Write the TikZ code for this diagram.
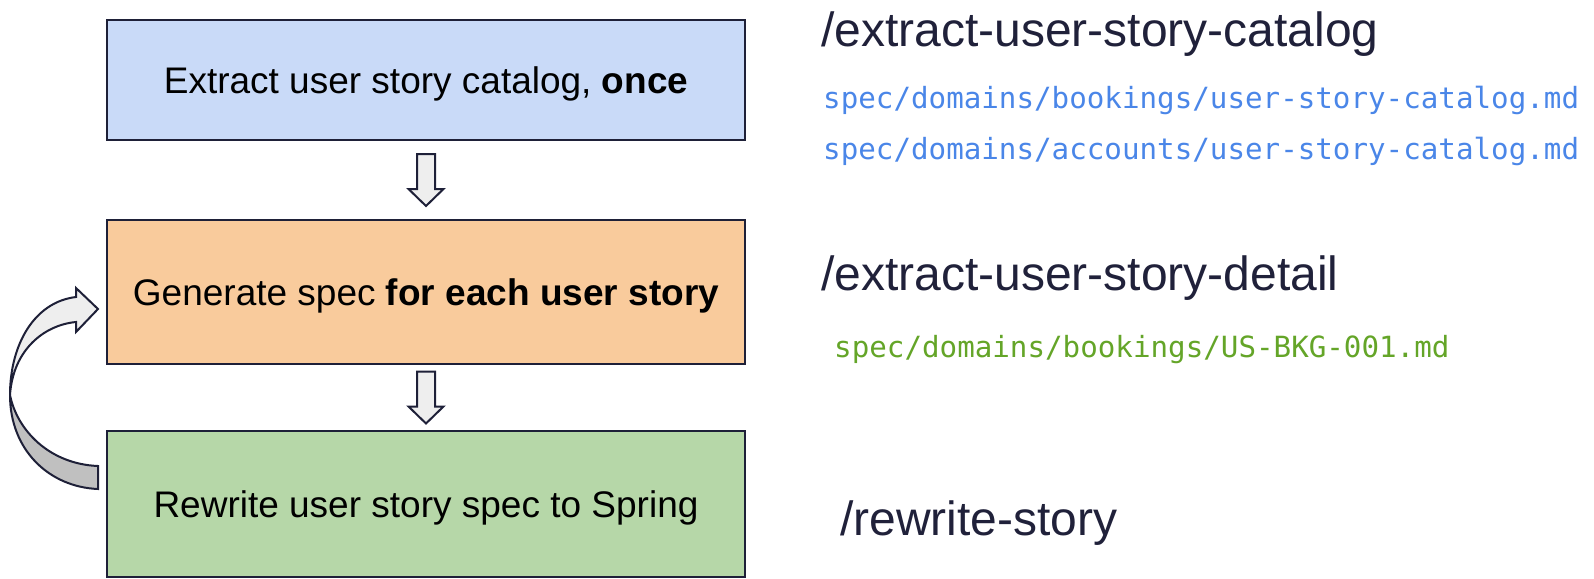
\documentclass[tikz,border=0pt]{standalone}
\usepackage{fontspec}
\setmainfont{Liberation Sans}
\newfontfamily\codefont{DejaVu Sans Mono}
\usetikzlibrary{calc}

\definecolor{navy}{RGB}{30,32,56}
\definecolor{cmdtext}{RGB}{32,33,58}
\definecolor{catblue}{RGB}{201,218,248}
\definecolor{specorange}{RGB}{249,203,156}
\definecolor{springgreen}{RGB}{182,215,168}
\definecolor{fileblue}{RGB}{74,134,232}
\definecolor{filegreen}{RGB}{100,165,40}
\definecolor{arrowlight}{RGB}{238,238,238}
\definecolor{arrowdark}{RGB}{192,192,192}

\tikzset{
  taskbox/.style={draw=navy, line width=2pt, minimum width=638pt, text=black,
    text depth=0pt, font=\fontsize{37}{44}\selectfont},
  cmd/.style={anchor=base west, inner sep=0pt, text=cmdtext,
    font=\fontsize{48}{56}\selectfont},
  outfile/.style={anchor=base west, inner sep=0pt,
    font=\codefont\fontsize{29.2}{34}\selectfont},
  blockarrow/.style={draw=navy, line width=2pt, line join=miter, fill=arrowlight},
}

\begin{document}
\begin{tikzpicture}[x=1pt,y=-1pt]
\useasboundingbox (0,0) rectangle (1594,578);

% the three steps
\node[taskbox, fill=catblue, minimum height=120pt] (cat) at (426,80) {Extract user story catalog, \textbf{once}};
\node[taskbox, fill=specorange, minimum height=144pt] (spec) at (426,292) {Generate spec \textbf{for each user story}};
\node[taskbox, fill=springgreen, minimum height=146pt] (spring) at (426,504) {Rewrite user story spec to Spring};

% down arrows between the steps
\foreach \a/\b in {cat/spec, spec/spring} {
  \coordinate (mid\a) at ($(\a.south)!0.5!(\b.north)$);
  \draw[blockarrow] ($(mid\a)+(-9,-26)$) -- ++(18,0) -- ++(0,35) -- ++(8.5,0)
    -- ($(mid\a)+(0,26)$) -- ++(-17.5,-17) -- ++(8.5,0) -- cycle;
}

% loop back from spring to spec
\coordinate (backtail) at ($(spring.west)+(-8,-15)$);
\coordinate (backtip) at ($(spec.west)+(-8,17)$);
\draw[blockarrow, fill=arrowdark] (backtail)
  .. controls +(-49,-2) and +(0,55) .. ++(-88,-94)
  .. controls +(7,35) and +(-49,-2) .. ++(88,71) -- cycle;
\draw[blockarrow] (backtip) -- ++(-22,-21) -- ++(0,9)
  .. controls +(-42,5) and +(0,-50) .. ++(-66,98)
  .. controls +(3,-45) and +(-32,3) .. ++(66,-73)
  -- ++(0,10) -- cycle;

% commands and the files they write
\node[cmd] (cmdcat) at (821,47) {/extract-user-story-catalog};
\node[outfile, text=fileblue] (file1) at (823,108) {spec/domains/bookings/user-story-catalog.md};
\node[outfile, text=fileblue] (file2) at (823,159) {spec/domains/accounts/user-story-catalog.md};
\node[cmd] (cmddetail) at (821,290) {/extract-user-story-detail};
\node[outfile, text=filegreen] (file3) at (834,357) {spec/domains/bookings/US-BKG-001.md};
\node[cmd] (cmdrewrite) at (840,535) {/rewrite-story};
\end{tikzpicture}
\end{document}
